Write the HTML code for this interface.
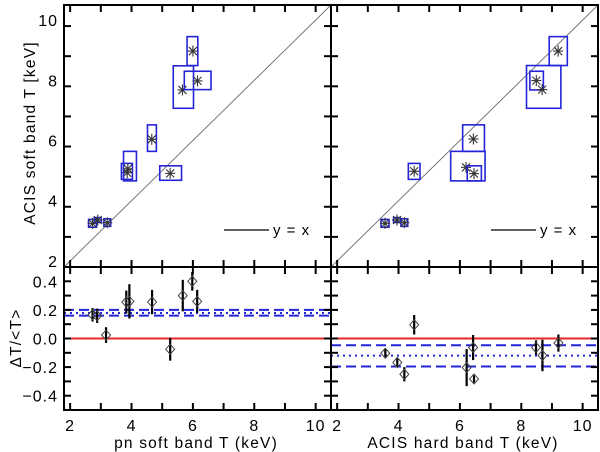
<!DOCTYPE html>
<html><head><meta charset="utf-8"><style>
html,body{margin:0;padding:0;background:#fff;}
svg{display:block;font-family:"Liberation Sans",sans-serif;}
</style></head><body>
<svg id="chart" width="600" height="452" viewBox="0 0 600 452"></svg>
<script>
// ---- data: top-left (pn soft vs ACIS soft)
const tlX=[2.73,2.90,3.21,3.86,3.88,4.66,5.26,5.66,6.00,6.15];
const tlY=[3.25,3.36,3.27,4.93,5.06,6.04,4.91,7.68,8.97,7.98];
const tlXlo=[2.60,2.79,3.10,3.67,3.74,4.52,4.92,5.36,5.81,5.72];
const tlXhi=[2.86,3.01,3.32,4.03,4.16,4.81,5.63,6.02,6.16,6.59];
const tlYlo=[3.12,3.28,3.15,4.71,4.66,5.64,4.68,7.07,8.49,7.69];
const tlYhi=[3.38,3.44,3.40,5.24,5.64,6.52,5.16,8.48,9.45,8.30];
// ---- data: top-right (ACIS hard vs ACIS soft)
const trX=[3.56,3.95,4.19,4.51,6.20,6.44,6.46,8.49,8.68,9.20];
const trY=[3.25,3.36,3.27,4.98,5.11,6.05,4.90,7.99,7.69,8.97];
const trXlo=[3.43,3.84,4.08,4.32,5.70,6.09,6.24,8.28,8.17,8.91];
const trXhi=[3.69,4.06,4.30,4.70,6.82,6.80,6.70,8.72,9.29,9.50];
const trYlo=[3.12,3.28,3.15,4.71,4.66,5.64,4.66,7.68,7.07,8.49];
const trYhi=[3.38,3.44,3.40,5.24,5.64,6.52,5.16,8.30,8.49,9.45];
// ---- data: bottom-left residuals
const blX=[2.73,2.88,3.17,3.83,3.93,4.67,5.26,5.67,5.98,6.14];
const blD=[0.166,0.159,0.024,0.255,0.26,0.255,-0.075,0.30,0.40,0.26];
const blE=[0.047,0.05,0.055,0.08,0.12,0.085,0.08,0.11,0.065,0.08];
const blMean=[0.178];
const blBand=[0.16,0.20];
// ---- data: bottom-right residuals
const brX=[3.57,3.96,4.19,4.51,6.22,6.43,6.46,8.48,8.69,9.21];
const brD=[-0.103,-0.168,-0.25,0.096,-0.203,-0.063,-0.283,-0.063,-0.119,-0.032];
const brE=[0.03,0.033,0.05,0.068,0.13,0.088,0.026,0.05,0.11,0.06];
const brMean=[-0.12];
const brBand=[-0.196,-0.047];
// ---- ticks
const xTickLabels=[2,4,6,8,10];
const topYTickLabels=[2,4,6,8,10];
const botYTickLabels=[-0.4,-0.2,0.0,0.2,0.4];

const NS="http://www.w3.org/2000/svg";
const svg=document.getElementById('chart');
function mk(tag,attrs,parent){const e=document.createElementNS(NS,tag);for(const k in attrs)e.setAttribute(k,attrs[k]);(parent||svg).appendChild(e);return e;}

const X0=1.8,X1=10.5;
const panels={
 tl:{x0:64,x1:331,y0:5,y1:267,ymin:1.8,ymax:10.5},
 tr:{x0:331,x1:598,y0:5,y1:267,ymin:1.8,ymax:10.5},
 bl:{x0:64,x1:331,y0:267,y1:410,ymin:-0.5,ymax:0.5},
 br:{x0:331,x1:598,y0:267,y1:410,ymin:-0.5,ymax:0.5}
};
function sx(p,v){return p.x0+(v-X0)/(X1-X0)*(p.x1-p.x0);}
function sy(p,v){return p.y1-(v-p.ymin)/(p.ymax-p.ymin)*(p.y1-p.y0);}

function axes(p,name,yStep){
  const g=mk('g',{});
  
  
  for(let v=2;v<=10.001;v+=1){
    const x=sx(p,v);
    mk('line',{x1:x,y1:p.y1,x2:x,y2:p.y1-7,stroke:'#000','stroke-width':2},g);
    mk('line',{x1:x,y1:p.y0,x2:x,y2:p.y0+7,stroke:'#000','stroke-width':2},g);
  }
  const n=Math.round((p.ymax-p.ymin)/yStep);
  for(let i=0;i<=n;i++){
    const v=p.ymin+i*yStep;
    if(v<=p.ymin+1e-6||v>=p.ymax-1e-6)continue;
    const y=sy(p,v);
    mk('line',{x1:p.x0,y1:y,x2:p.x0+7,y2:y,stroke:'#000','stroke-width':2},g);
    mk('line',{x1:p.x1,y1:y,x2:p.x1-7,y2:y,stroke:'#000','stroke-width':2},g);
  }
  mk('rect',{x:p.x0,y:p.y0,width:p.x1-p.x0,height:p.y1-p.y0,fill:'none',stroke:'#000','stroke-width':2},g);
}

function topPanel(p,name,X,Y,xl,xh,yl,yh,legendX){
  const g=mk('g',{});
  
  
  mk('line',{x1:sx(p,X0),y1:sy(p,X0),x2:sx(p,X1),y2:sy(p,X1),stroke:'#777','stroke-width':1},g);
  for(let i=0;i<X.length;i++){
    const r=mk('rect',{x:sx(p,xl[i]),y:sy(p,yh[i]),width:sx(p,xh[i])-sx(p,xl[i]),height:sy(p,yl[i])-sy(p,yh[i]),fill:'none',stroke:'#2424d8','stroke-width':1.6},g);
    
    
    const cx=sx(p,X[i]),cy=sy(p,Y[i]);
    const s=mk('g',{stroke:'#333','stroke-width':1.1},g);
    
    
    mk('line',{x1:cx-5,y1:cy,x2:cx+5,y2:cy},s);
    mk('line',{x1:cx,y1:cy-5.5,x2:cx,y2:cy+5.5},s);
    mk('line',{x1:cx-4,y1:cy-4,x2:cx+4,y2:cy+4},s);
    mk('line',{x1:cx-4,y1:cy+4,x2:cx+4,y2:cy-4},s);
  }
  const lg=mk('g',{},g);
  
  
  mk('line',{x1:legendX,y1:230,x2:legendX+45,y2:230,stroke:'#000','stroke-width':1.3},lg);
  const t=mk('text',{x:legendX+49,y:235,'font-size':15,'letter-spacing':1,fill:'#000','xml:space':'preserve'},lg);
  t.textContent='y  =  x';
}

function botPanel(p,name,X,D,E,mean,band){
  const g=mk('g',{});
  
  
  const z=mk('line',{x1:p.x0,y1:sy(p,0),x2:p.x1,y2:sy(p,0),stroke:'#e8262a','stroke-width':2},g);
  
  
  for(const b of band){
    const l=mk('line',{x1:p.x0,y1:sy(p,b),x2:p.x1,y2:sy(p,b),stroke:'#2424d8','stroke-width':2,'stroke-dasharray':'10,5'},g);
    
    
  }
  for(const m of mean){
    const l=mk('line',{x1:p.x0,y1:sy(p,m),x2:p.x1,y2:sy(p,m),stroke:'#2424d8','stroke-width':2,'stroke-dasharray':'2,4'},g);
    
    
  }
  for(let i=0;i<X.length;i++){
    const cx=sx(p,X[i]),cy=sy(p,D[i]);
    const pg=mk('g',{},g);
    
    
    mk('line',{x1:cx,y1:sy(p,D[i]+E[i]),x2:cx,y2:sy(p,D[i]-E[i]),stroke:'#000','stroke-width':2.2},pg);
    mk('path',{d:`M${cx-4.5},${cy} L${cx},${cy-5} L${cx+4.5},${cy} L${cx},${cy+5} Z`,fill:'none',stroke:'#444','stroke-width':1},pg);
  }
}

topPanel(panels.tl,'top-left',tlX,tlY,tlXlo,tlXhi,tlYlo,tlYhi,224);
topPanel(panels.tr,'top-right',trX,trY,trXlo,trXhi,trYlo,trYhi,491);
botPanel(panels.bl,'bottom-left',blX,blD,blE,blMean,blBand);
botPanel(panels.br,'bottom-right',brX,brD,brE,brMean,brBand);
axes(panels.tl,'top-left',1);
axes(panels.tr,'top-right',1);
axes(panels.bl,'bottom-left',0.1);
axes(panels.br,'bottom-right',0.1);

// tick labels
for(const v of topYTickLabels){
  const t=mk('text',{x:58,y:sy(panels.tl,v)+6,'font-size':16,'letter-spacing':1,'text-anchor':'end'});
  
  
  t.textContent=v;
}
for(const v of botYTickLabels){
  const t=mk('text',{x:58,y:sy(panels.bl,v)+6,'font-size':16,'letter-spacing':1,'text-anchor':'end'});
  
  
  t.textContent=(v<0?'\u2212'+Math.abs(v).toFixed(1):v.toFixed(1));
}
for(const p of [panels.bl,panels.br]){
  for(const v of xTickLabels){
    const t=mk('text',{x:sx(p,v),y:431,'font-size':16,'letter-spacing':1,'text-anchor':'middle'});
    
    
    t.textContent=v;
  }
}
function label(txt,x,y,rot,name){
  const t=mk('text',{x:x,y:y,'font-size':15.5,'letter-spacing':1.2,'text-anchor':'middle',transform:rot?`rotate(-90 ${x} ${y})`:''});
  
  
  t.textContent=txt;
}
label('ACIS soft band T [keV]',35,133,true,'y-axis-title-top');
label('\u0394T/<T>',21,338,true,'y-axis-title-bottom');
label('pn soft band T (keV)',196,448,false,'x-axis-title-left');
label('ACIS hard band T (keV)',463,448,false,'x-axis-title-right');
</script>
</body></html>
